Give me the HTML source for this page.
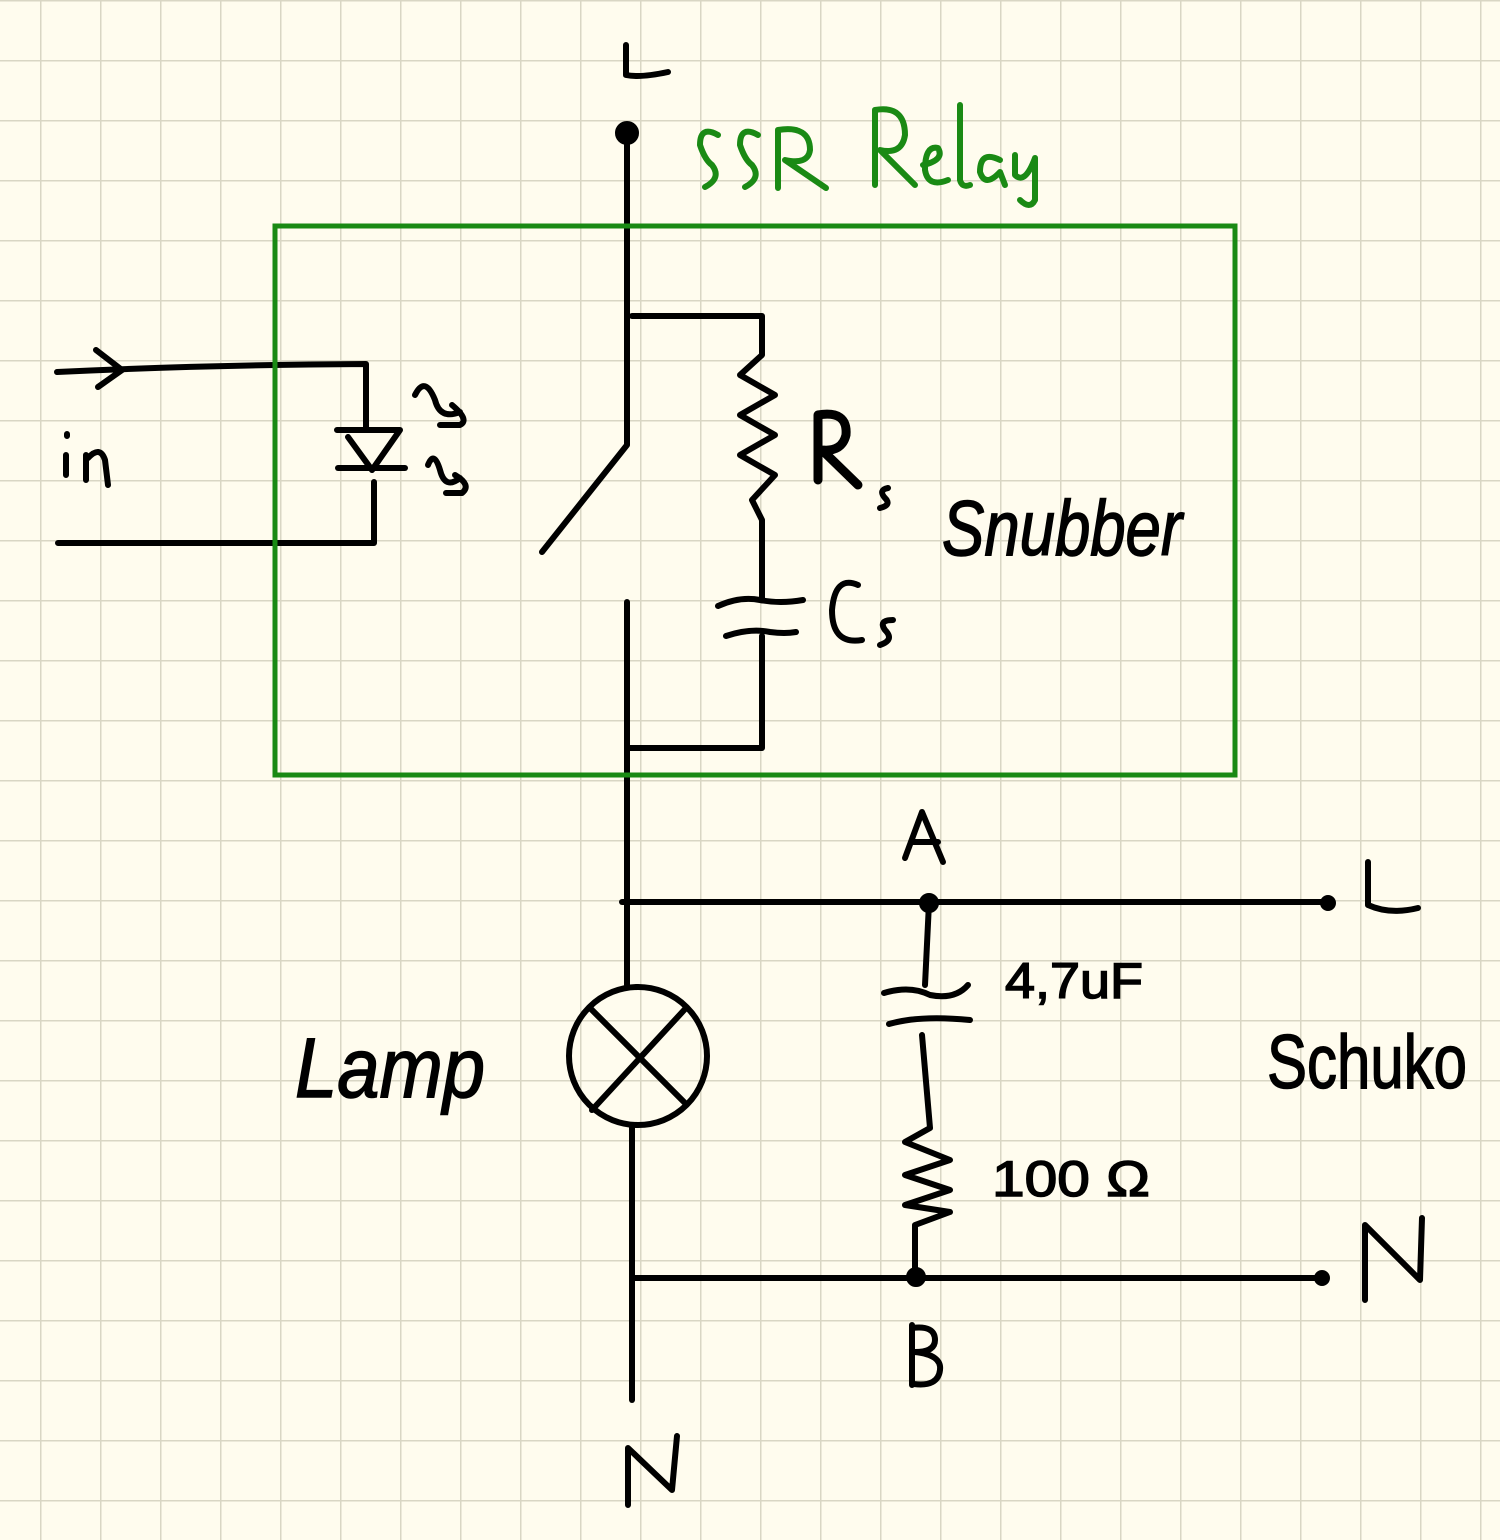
<!DOCTYPE html>
<html><head><meta charset="utf-8"><style>
html,body{margin:0;padding:0;background:#fffcee;}
svg{display:block;}
text{font-family:"Liberation Sans",sans-serif;}
</style></head><body>
<svg width="1500" height="1540" viewBox="0 0 1500 1540" xmlns="http://www.w3.org/2000/svg">
<defs>
<pattern id="g" x="40" y="0" width="60" height="60" patternUnits="userSpaceOnUse">
<path d="M0.5 0 V60 M0 0.5 H60" stroke="#d9d6c4" stroke-width="2" fill="none"/>
</pattern>
</defs>
<rect width="1500" height="1540" fill="#fffcee"/>
<rect width="1500" height="1540" fill="url(#g)"/>
<g stroke="#000" stroke-width="6" fill="none" stroke-linecap="round" stroke-linejoin="round">
<path d="M626 45 V75 Q640 78 668 72"/>
<circle cx="627" cy="133" r="9" fill="#000"/>
<path d="M627 133 V445 L542 552"/>
<path d="M627 602 V985"/>
<path d="M632 316 H762 V355 L740 375 L775 395 L740 415 L775 435 L740 455 L775 475 L752 500 L762 520 V598"/>
<path d="M718 606 Q740 596 760 600 Q780 604 803 600"/>
<path d="M726 636 Q750 628 770 632 Q785 634 796 632"/>
<path d="M762 636 V748 H630"/>
<path d="M57 372 Q200 365 366 364 V430"/>
<path d="M96 350 L122 370 L98 387"/>
<path d="M58 543 H374 V482"/>
<path d="M337 430 H400 L372 470 L348 437"/>
<path d="M338 468 H405"/>
<path d="M415 395 Q425 375 435 400 Q440 420 460 412 M452 405 Q470 420 460 425 H440"/>
<path d="M428 465 Q434 450 440 470 Q445 490 460 478 M455 475 Q472 485 462 493 H446"/>
<path d="M622 902 H1328"/>
<circle cx="929" cy="903" r="7" fill="#000"/>
<circle cx="1328" cy="903" r="5" fill="#000"/>
<path d="M929 903 L925 985"/>
<path d="M884 993 Q910 985 930 995 Q955 1000 968 985"/>
<path d="M889 1024 Q920 1015 970 1020"/>
<path d="M922 1035 L930 1128 L905 1142 L950 1160 L905 1175 L950 1190 L905 1205 L950 1212 L915 1225 V1275"/>
<circle cx="638" cy="1056" r="69"/>
<path d="M590 1008 L686 1104 M686 1008 L592 1110"/>
<path d="M632 1125 V1400"/>
<path d="M634 1278 H1322"/>
<circle cx="916" cy="1277" r="7" fill="#000"/>
<circle cx="1322" cy="1278" r="5" fill="#000"/>
<path d="M1368 862 V905 Q1390 915 1418 908"/>
<path d="M1365 1300 V1225 L1420 1280 L1422 1218"/>
<path d="M628 1505 V1448 L672 1490 L677 1436"/>
<path d="M905 858 L922 812 L943 862 M911 842 H938"/>
<path d="M912 1325 V1385 M912 1328 Q935 1325 935 1340 Q935 1352 915 1352 Q942 1355 940 1370 Q938 1387 914 1384"/>
<path d="M818 480 V415 Q848 410 846 435 Q842 452 822 450 L858 485" stroke-width="9"/>
<path d="M888 488 Q878 490 885 498 Q892 505 880 508"/>
<path d="M858 585 Q835 575 832 610 Q832 645 862 640"/>
<path d="M893 620 Q878 620 885 630 Q895 640 880 645"/>
<path d="M66 455 V475 M67 434 V436 M86 455 V480 M88 458 Q100 445 105 460 L108 485"/>
</g>
<rect x="275" y="226" width="960" height="549" fill="none" stroke="#1a8a14" stroke-width="5"/>
<g fill="none" stroke="#1a8a14" stroke-width="6" stroke-linecap="round" stroke-linejoin="round">
<path d="M718 135 Q700 125 700 145 Q705 160 712 165 Q722 178 705 187"/>
<path d="M758 135 Q740 125 740 145 Q745 160 752 165 Q762 178 745 187"/>
<path d="M778 188 V130 Q810 125 810 150 Q808 165 785 160 L826 188"/>
<path d="M875 185 V110 Q905 105 905 135 Q902 155 880 150 L915 185"/>
<path d="M923 165 Q945 160 938 148 Q925 145 925 170 Q928 188 948 180"/>
<path d="M960 105 V180 Q962 188 970 185"/>
<path d="M1000 160 Q980 150 980 172 Q985 188 1000 172 L1005 185"/>
<path d="M1015 155 V175 Q1025 185 1035 158 V200 Q1030 210 1020 200"/>
</g>
<g font-family="Liberation Sans, sans-serif" fill="#000" stroke="#000" stroke-width="1.5">
<text x="942" y="555" font-size="78" font-style="italic" textLength="240" lengthAdjust="spacingAndGlyphs">Snubber</text>
<text x="1005" y="998" font-size="50" textLength="138" lengthAdjust="spacingAndGlyphs">4,7uF</text>
<text x="992" y="1196" font-size="50" textLength="158" lengthAdjust="spacingAndGlyphs">100 Ω</text>
<text x="295" y="1097" font-size="84" font-style="italic" textLength="190" lengthAdjust="spacingAndGlyphs">Lamp</text>
<text x="1267" y="1088" font-size="76" textLength="200" lengthAdjust="spacingAndGlyphs">Schuko</text>
</g>
</svg>
</body></html>
